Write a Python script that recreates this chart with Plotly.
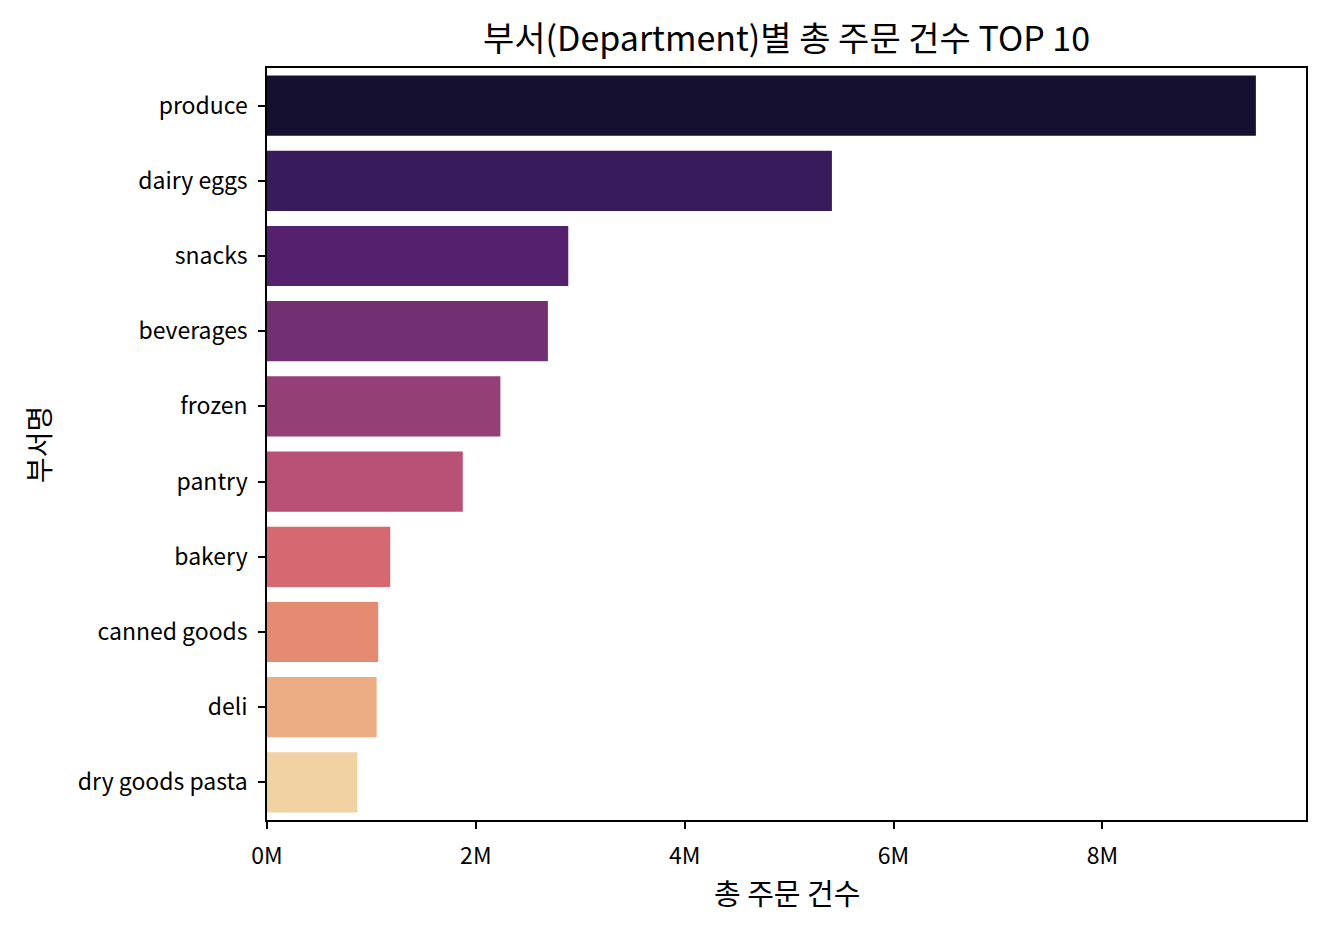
import plotly.graph_objects as go

# Top 10 departments by total order count
departments = ["produce", "dairy eggs", "snacks", "beverages", "frozen",
               "pantry", "bakery", "canned goods", "deli", "dry goods pasta"]
order_counts = [9470000, 5410000, 2885000, 2690000, 2235000,
                1875000, 1180000, 1065000, 1050000, 865000]
bar_colors = ["#161030", "#381b5b", "#55216e", "#723073", "#944076",
              "#b95075", "#d66871", "#e58b72", "#ecad85", "#f1d2a3"]
tick_vals = [0, 2000000, 4000000, 6000000, 8000000]
tick_text = ["0M", "2M", "4M", "6M", "8M"]

font = "Noto Sans CJK KR"

# page is drawn with an 8px body offset, so size/margins are adjusted for it
W, H = 1316, 932
L, R, T, B = 259, 18, 60, 120
pw, ph = W - L - R, H - T - B

fig = go.Figure(go.Bar(
    x=order_counts,
    y=departments,
    orientation="h",
    marker=dict(color=bar_colors, line=dict(width=0)),
    width=0.8,
))

fig.update_layout(
    width=W, height=H,
    margin=dict(l=L, r=R, t=T, b=B),
    paper_bgcolor="white", plot_bgcolor="white",
    font=dict(family=font, size=23, color="black"),
    showlegend=False,
    title=dict(text="부서(Department)별 총 주문 건수 TOP 10",
               x=(L + pw / 2) / W, xanchor="center",
               y=1 - 31 / H, yanchor="middle",
               font=dict(size=34, family=font, color="black")),
    annotations=[
        dict(text="총 주문 건수", xref="paper", yref="paper",
             x=0.5, y=-(892 - 820) / ph, xanchor="center", yanchor="middle",
             showarrow=False, font=dict(size=29)),
        dict(text="부서명", xref="paper", yref="paper",
             x=-(267 - 38) / pw, y=(820 - 445) / ph,
             xanchor="center", yanchor="middle", textangle=-90,
             showarrow=False, font=dict(size=28)),
    ],
)
fig.update_xaxes(
    range=[0, 9.95e6], tickvals=tick_vals, ticktext=tick_text,
    showgrid=False, zeroline=False,
    showline=True, linecolor="black", linewidth=1.5, mirror=True,
    ticks="outside", ticklen=7, tickwidth=1.5, tickcolor="black",
    ticklabelstandoff=8,
)
fig.update_yaxes(
    autorange="reversed",
    showgrid=False, zeroline=False,
    showline=True, linecolor="black", linewidth=1.5, mirror=True,
    ticks="outside", ticklen=7, tickwidth=1.5, tickcolor="black",
    ticklabelstandoff=6,
)

fig.write_html("out.html")
